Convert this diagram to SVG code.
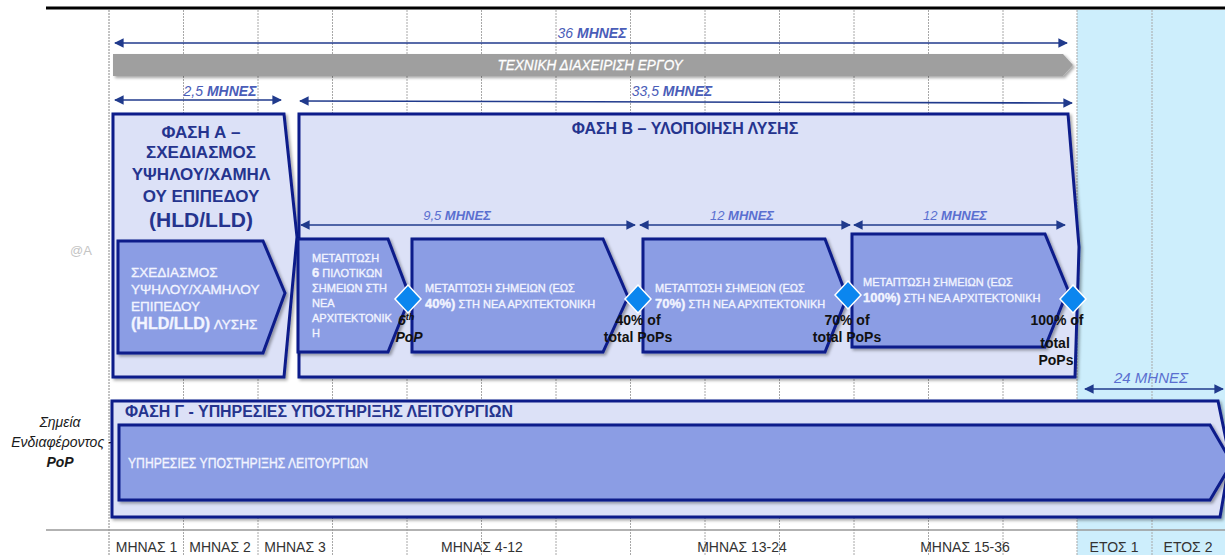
<svg xmlns="http://www.w3.org/2000/svg" width="1225" height="555" viewBox="0 0 1225 555">
<style>
text{font-family:"Liberation Sans",Arial,sans-serif}
.grid{stroke:#a8a8a8;stroke-width:1;stroke-dasharray:2 1}
.outer{fill:#dce1f7;stroke:#0d1c8a;stroke-width:3;stroke-linejoin:miter}
.inner{fill:#8b9de4;stroke:#0d1c8a;stroke-width:3;stroke-linejoin:miter}
.dim{stroke:#203a8c;stroke-width:1.6;fill:none}
.dl{fill:#4a5db8;font-style:italic;font-size:14px}
.dl2{fill:#5a6fd0;font-style:italic;font-size:13px}
.b{font-weight:bold}
.ttl{fill:#25348e;font-weight:bold}
.wt{fill:#f2f4ff;stroke:#f2f4ff;stroke-width:0.35}
.ms{fill:#111;font-weight:bold;font-size:14px}
.ax{fill:#333;font-size:14px;text-anchor:middle}
.dia{fill:#0b86ef;stroke:#fff;stroke-width:1.5}
</style>
<defs>
<marker id="ah" viewBox="0 0 10 10" refX="9" refY="5" markerWidth="6" markerHeight="6" orient="auto-start-reverse">
<path d="M0,0 L10,5 L0,10 z" fill="#203a8c"/>
</marker>
<filter id="sh" x="-5%" y="-10%" width="110%" height="130%">
<feDropShadow dx="2" dy="2" stdDeviation="1.5" flood-color="#000" flood-opacity="0.35"/>
</filter>
</defs>

<rect x="0" y="0" width="1225" height="555" fill="#fff"/>
<rect x="1077" y="10" width="148" height="545" fill="#cdeefc"/>

<g id="grid">
<line class="grid" x1="109" y1="10" x2="109" y2="555" style="stroke:#888"/>
<line class="grid" x1="183.5" y1="10" x2="183.5" y2="555"/>
<line class="grid" x1="258" y1="10" x2="258" y2="555"/>
<line class="grid" x1="332.5" y1="10" x2="332.5" y2="555"/>
<line class="grid" x1="407" y1="10" x2="407" y2="555"/>
<line class="grid" x1="481.5" y1="10" x2="481.5" y2="555"/>
<line class="grid" x1="556" y1="10" x2="556" y2="555"/>
<line class="grid" x1="630.5" y1="10" x2="630.5" y2="555"/>
<line class="grid" x1="705" y1="10" x2="705" y2="555"/>
<line class="grid" x1="779.5" y1="10" x2="779.5" y2="555"/>
<line class="grid" x1="854" y1="10" x2="854" y2="555"/>
<line class="grid" x1="928.5" y1="10" x2="928.5" y2="555"/>
<line class="grid" x1="1003" y1="10" x2="1003" y2="555"/>
<line class="grid" x1="1077" y1="10" x2="1077" y2="555"/>
<line class="grid" x1="1152" y1="10" x2="1152" y2="555"/>
<line x1="46" y1="8" x2="1225" y2="8" stroke="#000" stroke-width="3"/>
<line x1="46" y1="530" x2="1225" y2="530" stroke="#999" stroke-width="1.5"/>
</g>

<text x="70" y="255" fill="#c4c4c4" font-size="13px">@A</text>

<g id="axis-labels">
<text class="ax" x="146.5" y="552">ΜΗΝΑΣ 1</text>
<text class="ax" x="220" y="552">ΜΗΝΑΣ 2</text>
<text class="ax" x="295" y="552">ΜΗΝΑΣ 3</text>
<text class="ax" x="482" y="552">ΜΗΝΑΣ 4-12</text>
<text class="ax" x="742" y="552">ΜΗΝΑΣ 13-24</text>
<text class="ax" x="965" y="552">ΜΗΝΑΣ 15-36</text>
<text class="ax" x="1114" y="552">ΕΤΟΣ 1</text>
<text class="ax" x="1188" y="552">ΕΤΟΣ 2</text>
</g>

<g id="pop-label" font-style="italic" fill="#1a1a1a" font-size="14px" text-anchor="middle">
<text x="60" y="427">Σημεία</text>
<text x="62" y="447">Ενδιαφέροντος -</text>
<text x="60" y="467" font-weight="bold">PoP</text>
</g>

<g id="connectors">
<line class="dim" x1="115" y1="43" x2="1067" y2="43" marker-start="url(#ah)" marker-end="url(#ah)"/>
<line class="dim" x1="115" y1="100" x2="281" y2="100" marker-start="url(#ah)" marker-end="url(#ah)"/>
<line class="dim" x1="300" y1="101" x2="1072" y2="103" marker-start="url(#ah)" marker-end="url(#ah)"/>
<line class="dim" x1="1085" y1="389" x2="1223" y2="389" marker-start="url(#ah)" marker-end="url(#ah)"/>
</g>

<g id="dim-labels">
<text class="dl" x="592" y="38" text-anchor="middle">36 <tspan class="b">ΜΗΝΕΣ</tspan></text>
<text class="dl" x="220" y="96" text-anchor="middle">2,5 <tspan class="b">ΜΗΝΕΣ</tspan></text>
<text class="dl" x="672" y="96" text-anchor="middle">33,5 <tspan class="b">ΜΗΝΕΣ</tspan></text>
<text class="dl2" x="1151" y="383" text-anchor="middle" style="font-size:15px">24 ΜΗΝΕΣ</text>
</g>

<g id="pm-bar">
<polygon points="113,54 1063,54 1073,65 1063,76 113,76" fill="#9f9f9f" filter="url(#sh)"/>
<text x="590" y="70" fill="#fff" stroke="#fff" stroke-width="0.3" font-style="italic" font-size="14.5px" text-anchor="middle" textLength="185" lengthAdjust="spacingAndGlyphs">ΤΕΧΝΙΚΗ ΔΙΑΧΕΙΡΙΣΗ ΕΡΓΟΥ</text>
</g>

<g id="phase-a">
<polygon class="outer" points="113,114 284,114 297,237 284,377 113,377" filter="url(#sh)"/>
<g class="ttl" font-size="17px" text-anchor="middle">
<text x="201" y="138">ΦΑΣΗ Α –</text>
<text x="201" y="158">ΣΧΕΔΙΑΣΜΟΣ</text>
<text x="201" y="180">ΥΨΗΛΟΥ/ΧΑΜΗΛ</text>
<text x="201" y="202">ΟΥ ΕΠΙΠΕΔΟΥ</text>
<text x="201" y="227" font-size="21px">(HLD/LLD)</text>
</g>
<polygon class="inner" points="118,241 263,241 285,293 263,353 118,353" filter="url(#sh)"/>
<g class="wt" font-size="13.5px">
<text x="131" y="277">ΣΧΕΔΙΑΣΜΟΣ</text>
<text x="131" y="294">ΥΨΗΛΟΥ/ΧΑΜΗΛΟΥ</text>
<text x="131" y="311">ΕΠΙΠΕΔΟΥ</text>
<text x="131" y="329"><tspan font-weight="bold" font-size="16px">(HLD/LLD)</tspan> ΛΥΣΗΣ</text>
</g>
</g>

<g id="phase-b">
<polygon class="outer" points="299,114 1068,114 1079,247 1075,377 299,377" filter="url(#sh)"/>
<text class="ttl" x="685" y="134" font-size="16px" text-anchor="middle">ΦΑΣΗ Β – ΥΛΟΠΟΙΗΣΗ ΛΥΣΗΣ</text>
<line class="dim" x1="301" y1="225" x2="635" y2="225" marker-start="url(#ah)" marker-end="url(#ah)"/>
<line class="dim" x1="640" y1="225" x2="850" y2="225" marker-start="url(#ah)" marker-end="url(#ah)"/>
<line class="dim" x1="854" y1="225" x2="1065" y2="225" marker-start="url(#ah)" marker-end="url(#ah)"/>
<text class="dl2" x="457" y="220" text-anchor="middle">9,5 <tspan class="b">ΜΗΝΕΣ</tspan></text>
<text class="dl2" x="742" y="220" text-anchor="middle">12 <tspan class="b">ΜΗΝΕΣ</tspan></text>
<text class="dl2" x="955" y="220" text-anchor="middle">12 <tspan class="b">ΜΗΝΕΣ</tspan></text>
</g>

<g id="step-1">
<polygon class="inner" points="298,239 388,239 410,297 388,352 298,352" filter="url(#sh)"/>
<g class="wt" font-size="11px">
<text x="312" y="262">ΜΕΤΑΠΤΩΣΗ</text>
<text x="312" y="277"><tspan font-weight="bold" font-size="13px">6</tspan> ΠΙΛΟΤΙΚΩΝ</text>
<text x="312" y="292">ΣΗΜΕΙΩΝ ΣΤΗ</text>
<text x="312" y="307">ΝΕΑ</text>
<text x="312" y="322">ΑΡΧΙΤΕΚΤΟΝΙΚ</text>
<text x="312" y="337">Η</text>
</g>
</g>

<g id="step-2">
<polygon class="inner" points="412,239 603,239 628,297 603,352 412,352" filter="url(#sh)"/>
<g class="wt" font-size="11px">
<text x="425" y="292">ΜΕΤΑΠΤΩΣΗ ΣΗΜΕΙΩΝ (ΕΩΣ</text>
<text x="425" y="308"><tspan font-weight="bold" font-size="13px">40%)</tspan> ΣΤΗ ΝΕΑ ΑΡΧΙΤΕΚΤΟΝΙΚΗ</text>
</g>
</g>

<g id="step-3">
<polygon class="inner" points="643,239 825,239 847,297 825,352 643,352" filter="url(#sh)"/>
<g class="wt" font-size="11px">
<text x="655" y="292">ΜΕΤΑΠΤΩΣΗ ΣΗΜΕΙΩΝ (ΕΩΣ</text>
<text x="655" y="308"><tspan font-weight="bold" font-size="13px">70%)</tspan> ΣΤΗ ΝΕΑ ΑΡΧΙΤΕΚΤΟΝΙΚΗ</text>
</g>
</g>

<g id="step-4">
<polygon class="inner" points="852,234 1045,234 1068,290 1045,347 852,347" filter="url(#sh)"/>
<g class="wt" font-size="11px">
<text x="863" y="286">ΜΕΤΑΠΤΩΣΗ ΣΗΜΕΙΩΝ (ΕΩΣ</text>
<text x="863" y="302"><tspan font-weight="bold" font-size="13px">100%)</tspan> ΣΤΗ ΝΕΑ ΑΡΧΙΤΕΚΤΟΝΙΚΗ</text>
</g>
</g>

<g id="milestone-1">
<polygon class="dia" points="408,285 421,299 408,313 395,299"/>
<text class="ms" x="398" y="325" font-style="italic">6<tspan font-size="9px" dy="-5">th</tspan></text>
<text class="ms" x="409" y="342" text-anchor="middle" font-style="italic">PoP</text>
</g>
<g id="milestone-2">
<polygon class="dia" points="638,285 651,299 638,313 625,299"/>
<text class="ms" x="638" y="325" text-anchor="middle">40% of</text>
<text class="ms" x="638" y="342" text-anchor="middle">total PoPs</text>
</g>
<g id="milestone-3">
<polygon class="dia" points="848,281 861,295 848,309 835,295"/>
<text class="ms" x="847" y="325" text-anchor="middle">70% of</text>
<text class="ms" x="847" y="342" text-anchor="middle">total PoPs</text>
</g>
<g id="milestone-4">
<polygon class="dia" points="1073,285 1086,299 1073,313 1060,299"/>
<text class="ms" x="1057" y="325" text-anchor="middle">100% of</text>
<text class="ms" x="1055" y="348" text-anchor="middle">total</text>
<text class="ms" x="1056" y="365" text-anchor="middle">PoPs</text>
</g>

<g id="phase-c">
<polygon class="outer" points="112,401 1218,401 1230,459 1220,517 112,517" filter="url(#sh)"/>
<text class="ttl" x="125" y="417" font-size="16px" textLength="388" lengthAdjust="spacingAndGlyphs">ΦΑΣΗ Γ - ΥΠΗΡΕΣΙΕΣ ΥΠΟΣΤΗΡΙΞΗΣ ΛΕΙΤΟΥΡΓΙΩΝ</text>
<polygon class="inner" points="119,425 1210,425 1232,463 1210,500 119,500" filter="url(#sh)"/>
<text class="wt" x="128" y="468" font-size="14px" textLength="240" lengthAdjust="spacingAndGlyphs">ΥΠΗΡΕΣΙΕΣ ΥΠΟΣΤΗΡΙΞΗΣ ΛΕΙΤΟΥΡΓΙΩΝ</text>
</g>
</svg>
